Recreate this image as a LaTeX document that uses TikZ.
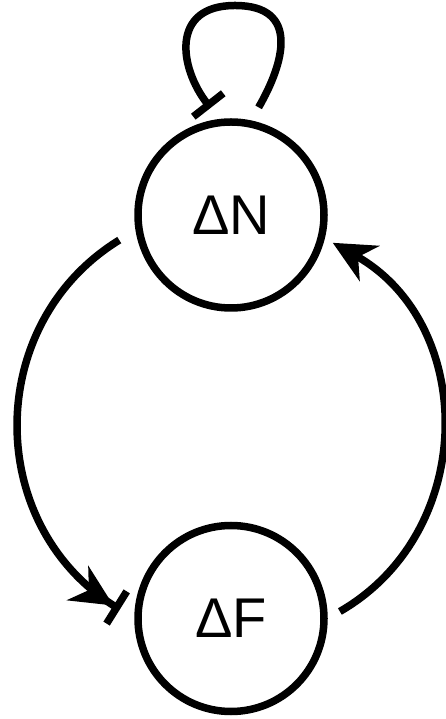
\documentclass[tikz,border=0pt]{standalone}
\usepackage{fontspec}
\setmainfont{Liberation Sans}
\usetikzlibrary{arrows.meta}

\begin{document}
\begin{tikzpicture}[x=1pt,y=1pt,
  state/.style={circle,draw,line width=7.5pt,minimum size=186pt,inner sep=0pt,
    font=\fontsize{56}{60}\selectfont},
  link/.style={line width=7.5pt},
  act/.style={link,-{Stealth[length=42pt,width=40pt,inset=13pt]}},
  inh/.style={link,-{Bar[width=38pt]}},
  actinh/.style={link,-{Stealth[length=42pt,width=40pt,inset=13pt,sep=0pt]Bar[width=38pt]}}]
  \useasboundingbox (0,0) rectangle (446,719);

  % species
  \node[state] (dN) at (231,504) {ΔN};
  \node[state] (dF) at (231,100.5) {ΔF};
  \coordinate (looptop) at (235,713.5);

  % self inhibition
  \draw[inh,shorten <=15pt,shorten >=14pt]
    (dN.78) to[out=60,in=0,looseness=1.45] (looptop)
    to[out=180,in=128,looseness=1.45] (dN.97);

  % N -> F and F -> N
  \draw[actinh,shorten <=19pt,shorten >=17pt]
    (dN.189) to[out=211.6,in=148,looseness=1.17] (dF.180);
  \draw[act,shorten <=14pt,shorten >=9pt]
    (dF.0) to[out=30,in=-29.3,looseness=1.17] (dN.346.5);
\end{tikzpicture}
\end{document}
